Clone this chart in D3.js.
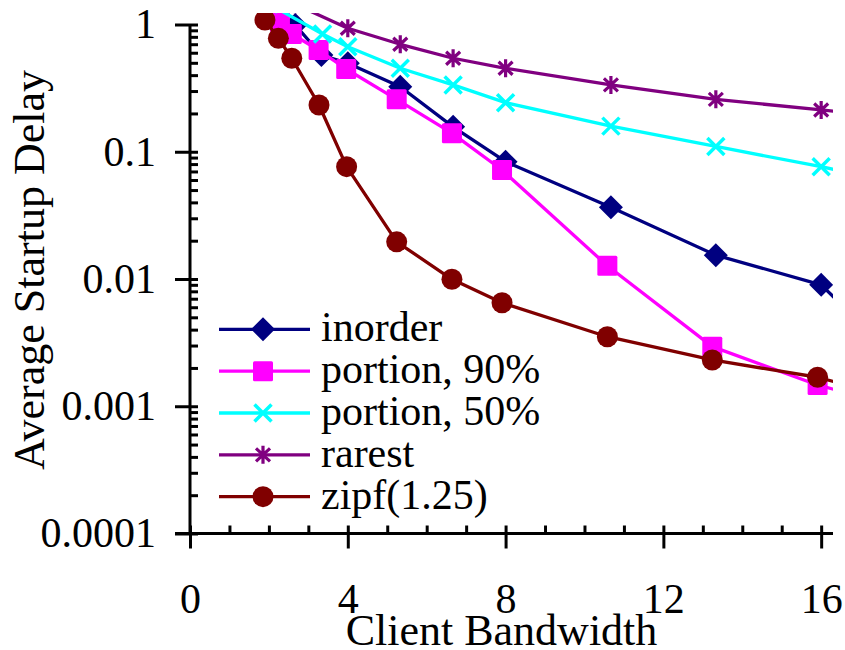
<!DOCTYPE html>
<html>
<head>
<meta charset="utf-8">
<script src="https://cdn.jsdelivr.net/npm/d3@7"></script>
<style>
  body { margin: 0; background: #fff; }
  svg { display: block; font-family: "Liberation Serif", "Times New Roman", serif; }
</style>
</head>
<body>
<svg id="chart" width="845" height="650"></svg>
<script>
/// data ///
const seriesNames = ["inorder", "portion, 90%", "portion, 50%", "rarest", "zipf(1.25)"];
const seriesColours = ["#000080", "#ff00ff", "#00ffff", "#800080", "#800000"];
const seriesMarkers = ["diamond", "square", "cross", "star", "circle"];

// last point of each series sits past the right edge and only shows as a clipped line
const inorderX = [2.67, 3.33, 4, 5.33, 6.67, 8, 10.67, 13.33, 16, 18.67];
const inorderY = [0.99, 0.576, 0.496, 0.324, 0.157, 0.0835, 0.0366, 0.0154, 0.0090, 0.0014];

const portion90X = [2.28, 2.58, 3.26, 3.96, 5.24, 6.64, 7.91, 10.58, 13.24, 15.91, 18.58];
const portion90Y = [1.046, 0.842, 0.630, 0.447, 0.258, 0.140, 0.0719, 0.0127, 0.00294, 0.00147, 0.00088];

const portion50X = [2, 3.36, 4, 5.33, 6.67, 8, 10.67, 13.33, 16, 18.67];
const portion50Y = [1.45, 0.842, 0.669, 0.453, 0.335, 0.243, 0.159, 0.110, 0.0763, 0.0501];

const rarestX = [2.67, 4, 5.33, 6.67, 8, 10.67, 13.33, 16, 18.67];
const rarestY = [1.44, 0.934, 0.699, 0.543, 0.453, 0.335, 0.258, 0.213, 0.176];

const zipfX = [1.90, 2.24, 2.58, 3.27, 3.97, 5.24, 6.64, 7.91, 10.58, 13.24, 15.91, 18.58];
const zipfY = [1.085, 0.779, 0.543, 0.233, 0.0763, 0.0196, 0.00995, 0.00651, 0.00352, 0.00231, 0.00169, 0.00101];

const xMajorTicks = [0, 4, 8, 12, 16];
const xMinorTicks = [1, 2, 3, 5, 6, 7, 9, 10, 11, 13, 14, 15];
const yMajorTicks = [1, 0.1, 0.01, 0.001, 0.0001];
const yTickLabels = ["1", "0.1", "0.01", "0.001", "0.0001"];

const xTitle = "Client Bandwidth";
const yTitle = "Average Startup Delay";

const seriesX = [inorderX, portion90X, portion50X, rarestX, zipfX];
const seriesY = [inorderY, portion90Y, portion50Y, rarestY, zipfY];

/// constants ///
const tickFont = 42;
const titleFont = 44;
const lineWidth = 3.3;
const axisWidth = 3;

const svg = d3.select("#chart");

// scales
const x = d3.scaleLinear().domain([0, 16.3]).range([190, 833]);
const y = d3.scaleLog().domain([1e-4, 1]).range([533.5, 24.5]);

// minor log ticks 2..9 in every decade
const yMinorTicks = [];
for (let e = -4; e < 0; e++) {
  for (let m = 2; m <= 9; m++) yMinorTicks.push(m * Math.pow(10, e));
}

/////////////////////////////////////////////
//////////////// Axes ///////////////////////
/////////////////////////////////////////////
const x0 = x(0), yBottom = y(1e-4);

const yAxis = svg.append("g")
  .attr("transform", `translate(${x0},0)`)
  .call(d3.axisLeft(y).tickValues(yMajorTicks).tickFormat((d, i) => yTickLabels[i])
    .tickSize(15).tickPadding(19).tickSizeOuter(0));
yAxis.selectAll(".tick line").attr("x1", 8);

const yMinor = svg.append("g")
  .attr("transform", `translate(${x0},0)`)
  .call(d3.axisLeft(y).tickValues(yMinorTicks).tickFormat("").tickSize(-8).tickSizeOuter(0));

const xAxis = svg.append("g")
  .attr("transform", `translate(0,${yBottom})`)
  .call(d3.axisBottom(x).tickValues(xMajorTicks).tickFormat(d3.format("d"))
    .tickSize(15).tickPadding(34.5).tickSizeOuter(0));
xAxis.selectAll(".tick line").attr("y1", -8);

const xMinor = svg.append("g")
  .attr("transform", `translate(0,${yBottom})`)
  .call(d3.axisBottom(x).tickValues(xMinorTicks).tickFormat("").tickSize(-8).tickSizeOuter(0));

[yAxis, yMinor, xAxis, xMinor].forEach(g => {
  g.select(".domain").remove();
  g.selectAll(".tick line").attr("stroke", "#000").attr("stroke-width", axisWidth);
  g.selectAll("text")
    .attr("fill", "#000")
    .style("font-family", '"Liberation Serif", "Times New Roman", serif')
    .style("font-size", tickFont + "px");
});

// axis lines
svg.append("line")
  .attr("x1", x0).attr("x2", x0)
  .attr("y1", y(1)).attr("y2", yBottom)
  .attr("stroke", "#000").attr("stroke-width", axisWidth);
svg.append("line")
  .attr("x1", x0 - 15).attr("x2", x.range()[1])
  .attr("y1", yBottom).attr("y2", yBottom)
  .attr("stroke", "#000").attr("stroke-width", axisWidth);

// titles
svg.append("text")
  .attr("x", 501.5).attr("y", 645)
  .attr("text-anchor", "middle")
  .style("font-size", titleFont + "px")
  .text(xTitle);

svg.append("text")
  .attr("transform", "translate(43.5,270) rotate(-90)")
  .attr("text-anchor", "middle")
  .style("font-size", titleFont + "px")
  .text(yTitle);

/////////////////////////////////////////////
//////////////// Markers ////////////////////
/////////////////////////////////////////////
function drawMarker(g, type, colour) {
  if (type === "diamond") {
    g.append("path").attr("d", "M0,-12L12,0L0,12L-12,0Z").attr("fill", colour);
  } else if (type === "square") {
    g.append("rect").attr("x", -10).attr("y", -10).attr("width", 20).attr("height", 20)
      .attr("rx", 1.5).attr("fill", colour);
  } else if (type === "circle") {
    g.append("circle").attr("r", 10.5).attr("fill", colour);
  } else if (type === "cross") {
    g.append("path").attr("d", "M-8.5,-8.5L8.5,8.5M-8.5,8.5L8.5,-8.5")
      .attr("stroke", colour).attr("stroke-width", 3.5).attr("fill", "none");
  } else if (type === "star") {
    g.append("path").attr("d", "M0,-9L0,9M-7,-6.5L7,6.5M-7,6.5L7,-6.5")
      .attr("stroke", colour).attr("stroke-width", 3.2).attr("fill", "none");
  }
}

/////////////////////////////////////////////
//////////////// Graph //////////////////////
/////////////////////////////////////////////
svg.append("clipPath").attr("id", "plot-clip")
  .append("rect")
  .attr("x", x0).attr("y", 13)
  .attr("width", x.range()[1] - x0).attr("height", yBottom - 13);

const plot = svg.append("g").attr("clip-path", "url(#plot-clip)");

const line = d3.line().x(d => x(d[0])).y(d => y(d[1]));

seriesNames.forEach((name, i) => {
  const pts = d3.zip(seriesX[i], seriesY[i]);
  plot.append("path")
    .datum(pts)
    .attr("d", line)
    .attr("fill", "none")
    .attr("stroke", seriesColours[i])
    .attr("stroke-width", lineWidth)
    .attr("stroke-linejoin", "round");
  plot.selectAll(null).data(pts).join("g")
    .attr("transform", d => `translate(${x(d[0])},${y(d[1])})`)
    .each(function () { drawMarker(d3.select(this), seriesMarkers[i], seriesColours[i]); });
});

/////////////////////////////////////////////
//////////////// Legend /////////////////////
/////////////////////////////////////////////
const legend = svg.append("g");
seriesNames.forEach((name, i) => {
  const ly = 329.3 + i * 41.85;
  const row = legend.append("g").attr("transform", `translate(0,${ly})`);
  row.append("line").attr("x1", 219).attr("x2", 310)
    .attr("stroke", seriesColours[i]).attr("stroke-width", lineWidth);
  drawMarker(row.append("g").attr("transform", "translate(263,0)"), seriesMarkers[i], seriesColours[i]);
  row.append("text").attr("x", 321).attr("y", 12)
    .style("font-size", tickFont + "px")
    .text(name);
});
</script>
</body>
</html>
